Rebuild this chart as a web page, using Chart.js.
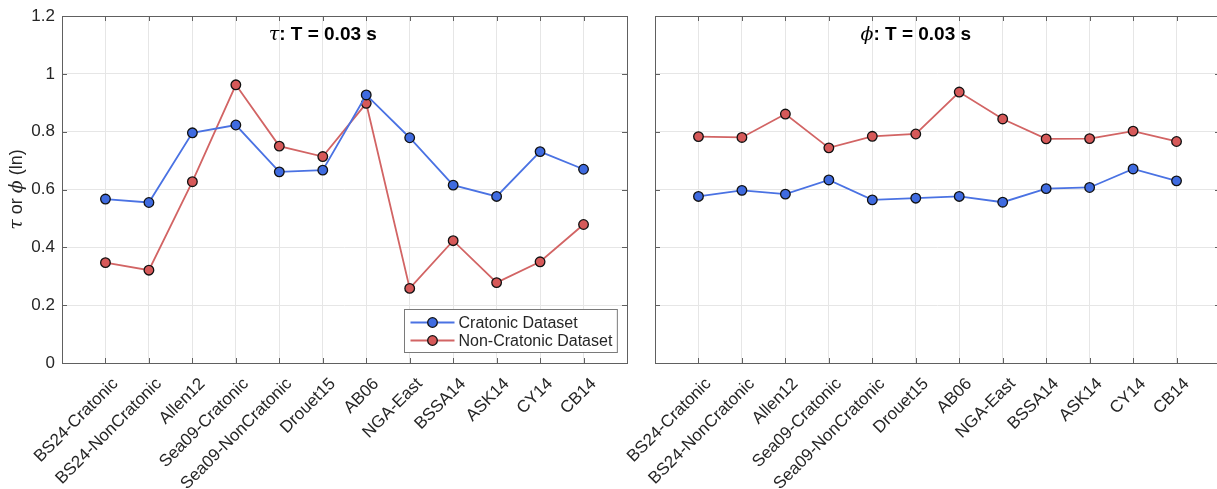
<!DOCTYPE html>
<html>
<head>
<meta charset="utf-8">
<script src="https://cdn.jsdelivr.net/npm/chart.js@4.4.1/dist/chart.umd.min.js"></script>
<style>
  html, body { margin: 0; padding: 0; background: #fff; overflow: hidden; width: 1217px; height: 489px; }
  .panel { position: absolute; top: 0; }
  #leftWrap { left: 0; }
  #rightWrap { left: 560px; }
</style>
</head>
<body>
<div class="panel" id="leftWrap"><canvas id="tauChart" width="640" height="489"></canvas></div>
<div class="panel" id="rightWrap"><canvas id="phiChart" width="680" height="489"></canvas></div>
<script>
// Ground-motion models compared along the x axis
const categories = ['BS24-Cratonic', 'BS24-NonCratonic', 'Allen12', 'Sea09-Cratonic', 'Sea09-NonCratonic',
  'Drouet15', 'AB06', 'NGA-East', 'BSSA14', 'ASK14', 'CY14', 'CB14'];

// Between-event (tau) standard deviations, T = 0.03 s
const tauCratonic    = [0.567, 0.555, 0.796, 0.823, 0.661, 0.667, 0.927, 0.779, 0.615, 0.576, 0.731, 0.670];
const tauNonCratonic = [0.347, 0.321, 0.627, 0.962, 0.750, 0.714, 0.898, 0.258, 0.423, 0.278, 0.350, 0.479];

// Within-event (phi) standard deviations, T = 0.03 s
const phiCratonic    = [0.576, 0.597, 0.584, 0.633, 0.564, 0.570, 0.576, 0.556, 0.603, 0.607, 0.671, 0.630];
const phiNonCratonic = [0.783, 0.780, 0.861, 0.744, 0.784, 0.792, 0.937, 0.844, 0.775, 0.776, 0.802, 0.766];

const yTicks = [0, 0.2, 0.4, 0.6, 0.8, 1, 1.2];
const seriesNames = ['Cratonic Dataset', 'Non-Cratonic Dataset'];

const BLUE_LINE = '#4a72e3', BLUE_FACE = '#3f6be0';
const RED_LINE = '#d26464', RED_FACE = '#d65959';
const AXIS = '#606060', GRID = '#e6e6e6', TEXT = '#262626';
const SANS = "'Liberation Sans', Arial, Helvetica, sans-serif";
const SERIF_IT = "'DejaVu Serif', 'Liberation Serif', serif";

function toPoints(vals) { return vals.map((v, i) => ({ x: i + 1, y: v })); }

function series(label, vals, line, face) {
  return {
    label, data: toPoints(vals),
    borderColor: line, backgroundColor: face, borderWidth: 1.8,
    pointRadius: 4.8, pointHoverRadius: 4.8,
    pointBackgroundColor: face, pointBorderColor: '#111', pointBorderWidth: 1.3,
    tension: 0, clip: false
  };
}

// Draws text made of runs with different fonts, sharing one baseline
function richText(ctx, parts, x, y, align) {
  let total = 0;
  const widths = parts.map(p => { ctx.font = p.font; const w = ctx.measureText(p.text).width; total += w; return w; });
  let cx = align === 'center' ? x - total / 2 : x;
  ctx.textAlign = 'left';
  ctx.textBaseline = 'alphabetic';
  parts.forEach((p, i) => { ctx.font = p.font; ctx.fillStyle = p.color || '#000'; ctx.fillText(p.text, cx, y); cx += widths[i]; });
}

// Box, inward tick marks, in-axes title, legend and y-axis label
const framePlugin = {
  id: 'frame',
  beforeDatasetsDraw(chart, args, opts) {
    const { ctx, chartArea: a, scales: { x, y } } = chart;
    ctx.save();
    ctx.strokeStyle = AXIS;
    ctx.lineWidth = 1;
    const TL = 5;
    ctx.beginPath();
    categories.forEach((c, i) => {
      const px = Math.round(x.getPixelForValue(i + 1)) + 0.5;
      ctx.moveTo(px, a.bottom); ctx.lineTo(px, a.bottom - TL);
      ctx.moveTo(px, a.top); ctx.lineTo(px, a.top + TL);
    });
    yTicks.forEach(v => {
      const py = Math.round(y.getPixelForValue(v)) + 0.5;
      ctx.moveTo(a.left, py); ctx.lineTo(a.left + TL, py);
      ctx.moveTo(a.right, py); ctx.lineTo(a.right - TL, py);
    });
    ctx.stroke();
    ctx.strokeRect(Math.round(a.left) + 0.5, Math.round(a.top) + 0.5,
                   Math.round(a.right - a.left), Math.round(a.bottom - a.top));
    ctx.restore();
  },
  afterDatasetsDraw(chart, args, opts) {
    const { ctx, chartArea: a, scales: { x, y } } = chart;
    ctx.save();
    // panel title placed inside the axes at x = 6
    const tx = x.getPixelForValue(6), ty = y.getPixelForValue(1.14) + 7;
    richText(ctx, [
      { text: opts.greek, font: 'italic 19px ' + SERIF_IT, color: '#000' },
      { text: ': T = 0.03 s', font: 'bold 19px ' + SANS, color: '#000' }
    ], tx, ty, 'center');

    if (opts.legend) {
      const F = '16px ' + SANS;
      ctx.font = F;
      const textW = Math.max(...chart.data.datasets.map(d => ctx.measureText(d.label).width));
      const rowH = 18, lineLen = 44;
      const w = 6 + lineLen + 4 + textW + 5, h = 4 + rowH * 2 + 3;
      const right = a.right - 10, bottom = a.bottom - 11;
      const left = Math.round(right - w) + 0.5, top = Math.round(bottom - h) + 0.5;
      ctx.fillStyle = '#fff';
      ctx.fillRect(left, top, w, h);
      ctx.strokeStyle = '#7a7a7a'; ctx.lineWidth = 1;
      ctx.strokeRect(left, top, w, h);
      chart.data.datasets.forEach((d, i) => {
        const ry = top + 4 + rowH * i + rowH / 2;
        const lx = left + 6;
        ctx.strokeStyle = d.borderColor; ctx.lineWidth = 1.8;
        ctx.beginPath(); ctx.moveTo(lx, ry); ctx.lineTo(lx + lineLen, ry); ctx.stroke();
        ctx.beginPath(); ctx.arc(lx + lineLen / 2, ry, 4.8, 0, Math.PI * 2);
        ctx.fillStyle = d.pointBackgroundColor; ctx.fill();
        ctx.strokeStyle = '#111'; ctx.lineWidth = 1.3; ctx.stroke();
        ctx.fillStyle = TEXT; ctx.font = F;
        ctx.textAlign = 'left'; ctx.textBaseline = 'middle';
        ctx.fillText(d.label, lx + lineLen + 4, ry + 1);
      });
    }

    if (opts.yLabel) {
      ctx.translate(16, (a.top + a.bottom) / 2);
      ctx.rotate(-Math.PI / 2);
      richText(ctx, [
        { text: 'τ', font: 'italic 19px ' + SERIF_IT, color: TEXT },
        { text: ' or ', font: '18px ' + SANS, color: TEXT },
        { text: 'ϕ', font: 'italic 19px ' + SERIF_IT, color: TEXT },
        { text: ' (ln)', font: '18px ' + SANS, color: TEXT }
      ], 0, 6, 'center');
    }
    ctx.restore();
  }
};

function makeChart(id, cratonic, nonCratonic, cfg) {
  return new Chart(document.getElementById(id), {
    type: 'line',
    data: {
      datasets: [
        series(seriesNames[0], cratonic, BLUE_LINE, BLUE_FACE),
        series(seriesNames[1], nonCratonic, RED_LINE, RED_FACE)
      ]
    },
    options: {
      responsive: false,
      animation: false,
      events: [],
      layout: { padding: { top: 16, right: cfg.padRight, bottom: 0, left: 0 } },
      plugins: {
        legend: { display: false },
        tooltip: { enabled: false },
        frame: { greek: cfg.greek, legend: cfg.legend, yLabel: cfg.yLabel }
      },
      scales: {
        x: {
          type: 'linear', min: 0, max: categories.length + 1,
          afterBuildTicks: s => { s.ticks = [0, ...categories.map((c, i) => i + 1), categories.length + 1].map(v => ({ value: v })); },
          afterFit: s => { s.height = 126; s.paddingLeft = 0; s.paddingRight = 0; },
          grid: { color: GRID, lineWidth: 1, drawTicks: false },
          border: { display: false },
          ticks: {
            autoSkip: false, minRotation: 45, maxRotation: 45, padding: 11, labelOffset: 10,
            color: TEXT, font: { family: SANS, size: 17 },
            callback: v => categories[v - 1] || ''
          }
        },
        y: {
          min: 0, max: 1.2,
          afterBuildTicks: s => { s.ticks = yTicks.map(v => ({ value: v })); },
          afterFit: s => { s.width = cfg.axisWidth; s.paddingTop = 0; s.paddingBottom = 0; },
          grid: { color: GRID, lineWidth: 1, drawTicks: false },
          border: { display: false },
          ticks: {
            display: cfg.yLabels, padding: 7,
            color: TEXT, font: { family: SANS, size: 17 },
            callback: v => String(v)
          }
        }
      }
    },
    plugins: [framePlugin]
  });
}

makeChart('tauChart', tauCratonic, tauNonCratonic,
  { greek: 'τ', legend: true, yLabel: true, yLabels: true, axisWidth: 62, padRight: 13 });
makeChart('phiChart', phiCratonic, phiNonCratonic,
  { greek: 'ϕ', legend: false, yLabel: false, yLabels: false, axisWidth: 95, padRight: 20 });
</script>
</body>
</html>
